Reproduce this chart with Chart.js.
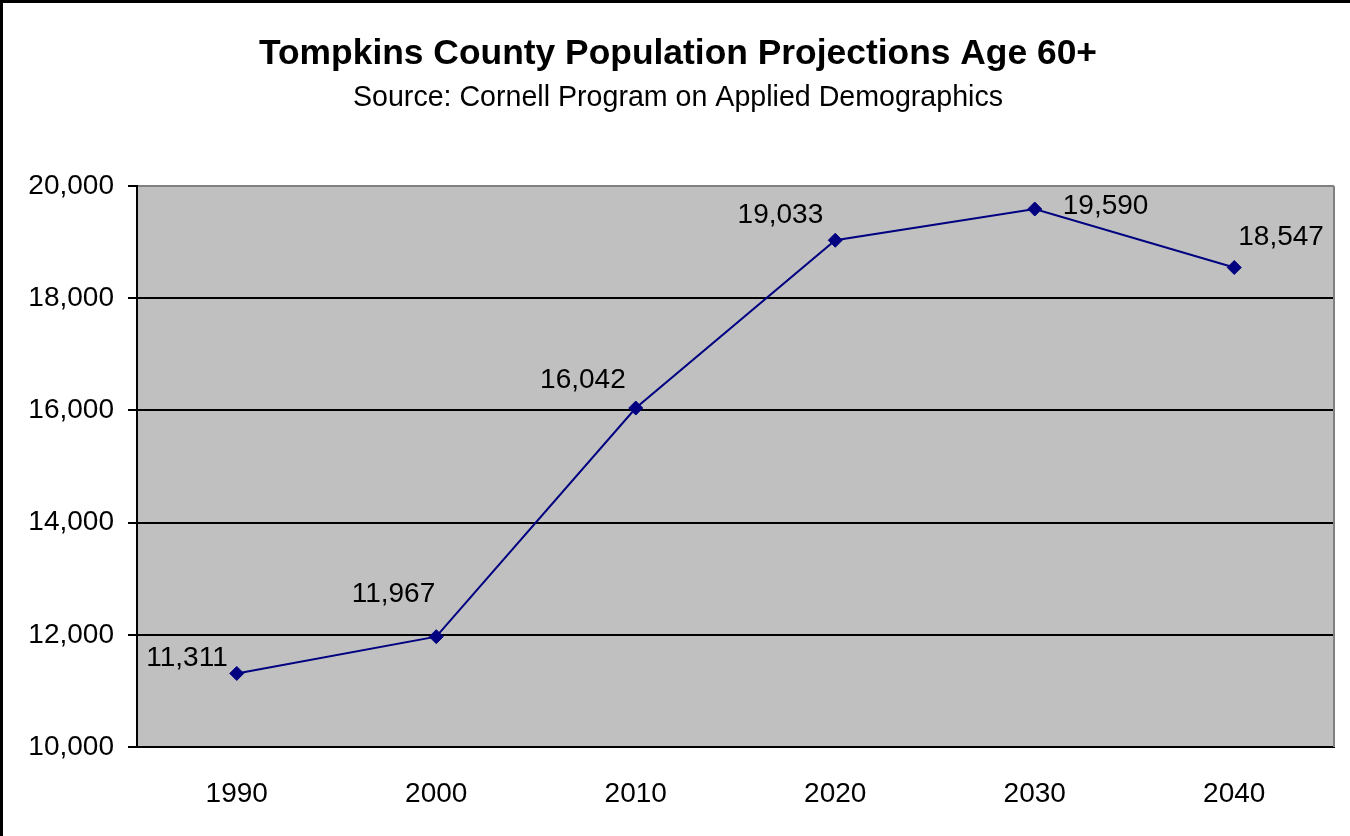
<!DOCTYPE html>
<html>
<head>
<meta charset="utf-8">
<script src="https://cdn.jsdelivr.net/npm/chart.js@4"></script>
<style>
html,body{margin:0;padding:0;background:#fff;}
#wrap{width:1350px;height:836px;position:relative;}
</style>
</head>
<body>
<div id="wrap"><canvas id="c" width="1350" height="836"></canvas></div>
<script>
const chartTitle = "Tompkins County Population Projections Age 60+";
const chartSubtitle = "Source: Cornell Program on Applied Demographics";
const years = ["1990", "2000", "2010", "2020", "2030", "2040"];
const population = [11311, 11967, 16042, 19033, 19590, 18547];
const yMin = 10000;
const yMax = 20000;
const yStep = 2000;

const FONT = "'Liberation Sans', Arial, sans-serif";
const fmt = v => Number(v).toLocaleString('en-US');

// label placement relative to each point: [dx, dy(center), align]
const labelPlacement = [
  [-9, -15, 'right'],
  [-1, -42, 'right'],
  [-10, -28, 'right'],
  [-12, -25, 'right'],
  [28, -3, 'left'],
  [4, -30, 'left']
];

const decorPlugin = {
  id: 'decor',
  beforeDraw(chart) {
    const ctx = chart.ctx;
    const a = chart.chartArea;
    ctx.save();
    ctx.fillStyle = '#ffffff';
    ctx.fillRect(0, 0, chart.width, chart.height);
    ctx.fillStyle = '#c0c0c0';
    ctx.fillRect(a.left, a.top, a.right - a.left, a.bottom - a.top);
    // outer frame (top & left)
    ctx.fillStyle = '#000';
    ctx.fillRect(0, 0, chart.width, 3);
    ctx.fillRect(0, 0, 3, chart.height);
    // titles
    ctx.fillStyle = '#000';
    ctx.textAlign = 'center';
    ctx.textBaseline = 'middle';
    ctx.font = "bold 35.4px " + FONT;
    ctx.fillText(chartTitle, 678, 54);
    ctx.font = "28.6px " + FONT;
    ctx.fillText(chartSubtitle, 678, 98);
    ctx.restore();
  },
  afterDatasetsDraw(chart) {
    const ctx = chart.ctx;
    const a = chart.chartArea;
    ctx.save();
    // plot border right (gray)
    ctx.strokeStyle = '#808080';
    ctx.lineWidth = 2;
    ctx.beginPath();
    ctx.moveTo(a.right, a.top);
    ctx.lineTo(a.right, a.bottom);
    ctx.stroke();
    // data labels
    const meta = chart.getDatasetMeta(0);
    ctx.fillStyle = '#000';
    ctx.font = "28px " + FONT;
    ctx.textBaseline = 'middle';
    meta.data.forEach((pt, i) => {
      const p = labelPlacement[i];
      ctx.textAlign = p[2];
      ctx.fillText(fmt(population[i]), pt.x + p[0], pt.y + p[1]);
    });
    ctx.restore();
  }
};

new Chart(document.getElementById('c'), {
  type: 'line',
  data: {
    labels: years,
    datasets: [{
      data: population,
      borderColor: '#000080',
      borderWidth: 2,
      backgroundColor: '#000080',
      pointStyle: 'rectRot',
      pointRadius: 7,
      pointBorderWidth: 1,
      pointBorderColor: '#000080',
      pointBackgroundColor: '#000080',
      tension: 0,
      fill: false
    }]
  },
  options: {
    responsive: false,
    devicePixelRatio: 1,
    animation: false,
    events: [],
    layout: { padding: { top: 186, left: 0, right: 16, bottom: 0 } },
    plugins: { legend: { display: false }, tooltip: { enabled: false }, title: { display: false } },
    scales: {
      x: {
        offset: true,
        grid: { display: false, drawTicks: false },
        border: { display: true, color: '#000', width: 2 },
        ticks: { color: '#000', font: { family: FONT, size: 28 }, padding: 30, maxRotation: 0 },
        afterFit(s) { s.height = 89; }
      },
      y: {
        min: yMin,
        max: yMax,
        grid: {
          color: ctx => (ctx.tick && ctx.tick.value === yMax) ? '#808080' : '#000',
          lineWidth: 2,
          tickLength: 9,
          tickColor: '#000',
          drawOnChartArea: true
        },
        border: { display: true, color: '#000', width: 2 },
        ticks: {
          stepSize: yStep,
          color: '#000',
          font: { family: FONT, size: 28 },
          padding: 14,
          callback: v => fmt(v)
        },
        afterFit(s) { s.width = 137; }
      }
    }
  },
  plugins: [decorPlugin]
});
</script>
</body>
</html>
